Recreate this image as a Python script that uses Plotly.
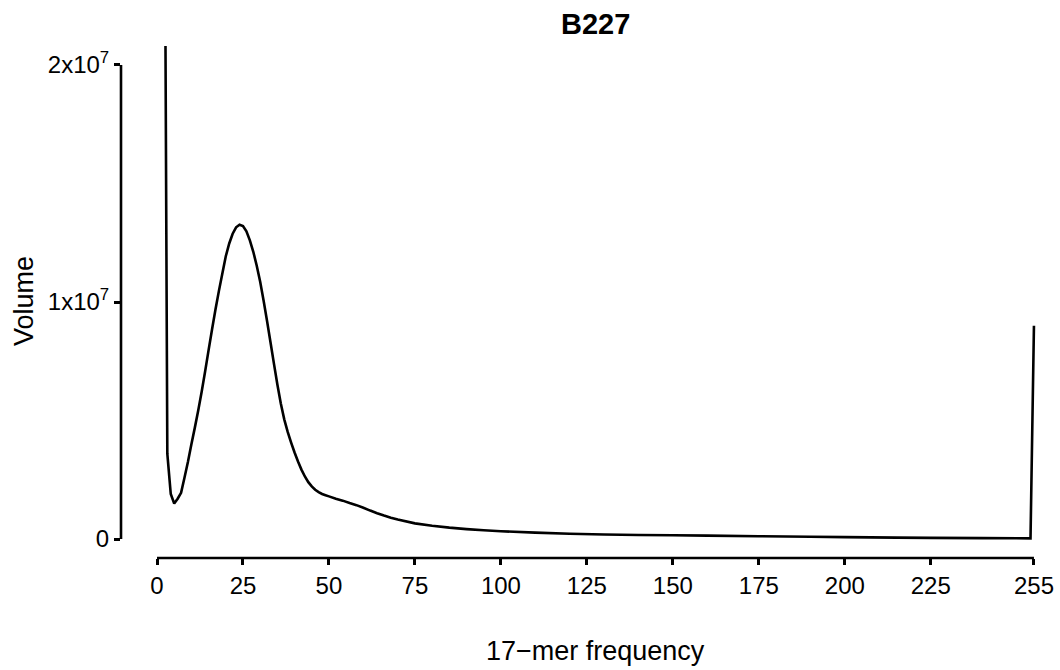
import plotly.graph_objects as go

# ---- data ----
freq = [2, 3, 4, 5, 6, 7, 8, 9, 10, 11, 12, 13, 14, 15, 16, 17, 18, 19, 20,
        21, 22, 23, 24, 25, 26, 27, 28, 29, 30, 31, 32, 33, 34, 35, 36, 37,
        38, 39, 40, 41, 42, 43, 44, 45, 46, 47, 48, 49, 50, 52, 54, 56, 58,
        60, 62, 64, 66, 68, 70, 75, 80, 85, 90, 95, 100, 110, 120, 130, 140,
        150, 160, 175, 190, 200, 215, 225, 240, 254, 255]
volume_m = [36.0, 3.6, 1.9, 1.5, 1.7, 1.95, 2.6, 3.26, 4.0, 4.7, 5.43, 6.22,
            7.08, 7.97, 8.84, 9.68, 10.47, 11.2, 11.93, 12.47, 12.88, 13.15,
            13.26, 13.2, 12.98, 12.6, 12.12, 11.53, 10.85, 10.05, 9.2, 8.3,
            7.4, 6.52, 5.72, 5.05, 4.52, 4.07, 3.65, 3.27, 2.93, 2.64, 2.4,
            2.22, 2.08, 1.98, 1.9, 1.85, 1.8, 1.7, 1.62, 1.52, 1.43, 1.32, 1.2,
            1.09, 0.99, 0.9, 0.82, 0.66, 0.56, 0.48, 0.42, 0.37, 0.33, 0.27,
            0.22, 0.19, 0.17, 0.16, 0.145, 0.12, 0.095, 0.08, 0.06, 0.05,
            0.04, 0.03, 9.0]
volume = [v * 1e6 for v in volume_m]

x_tickvals = [0, 25, 50, 75, 100, 125, 150, 175, 200, 225, 255]
x_ticktext = [str(v) for v in x_tickvals]
y_tickvals = [0, 1e7, 2e7]
y_ticktext = ["0", "1x10<sup>7</sup>", "2x10<sup>7</sup>"]

title_text = "B227"
x_title = "17\u2212mer frequency"
y_title = "Volume"

FONT = "Liberation Sans, Arial, Helvetica, sans-serif"
W, H = 1060, 670
L, R, T, B = 121, 19, 46, 112

fig = go.Figure()
fig.add_trace(go.Scatter(x=freq, y=volume, mode="lines",
                         line=dict(color="black", width=2.6, simplify=False),
                         hoverinfo="x+y", showlegend=False))

fig.update_layout(
    width=W, height=H,
    margin=dict(l=L, r=R, t=T, b=B, pad=0, autoexpand=False),
    paper_bgcolor="white", plot_bgcolor="white",
    font=dict(family=FONT, color="black", size=24),
    xaxis=dict(range=[-10.47, 257.05], tickvals=x_tickvals, ticktext=x_ticktext,
               ticks="outside", ticklen=6, tickwidth=2.5, tickcolor="black",
               showline=False, showgrid=False, zeroline=False, automargin=False,
               tickfont=dict(size=24, family=FONT, color="black")),
    yaxis=dict(range=[-0.8e6, 20.8e6], tickvals=y_tickvals, ticktext=y_ticktext,
               ticks="outside", ticklen=6, tickwidth=2.5, tickcolor="black",
               showline=False, showgrid=False, zeroline=False, automargin=False,
               tickfont=dict(size=24, family=FONT, color="black")),
    shapes=[
        dict(type="line", xref="x", yref="paper", x0=0, x1=255, y0=0, y1=0,
             line=dict(color="black", width=2.6)),
        dict(type="line", xref="paper", yref="y", x0=0, x1=0, y0=0, y1=2e7,
             line=dict(color="black", width=2.6)),
    ],
)

pw = W - L - R
ph = H - T - B
def px_x(px):
    return (px - L) / pw
def px_y(py):
    return (H - B - py) / ph

fig.add_annotation(text="<b>" + title_text + "</b>", x=px_x(595), y=px_y(24),
                   xref="paper", yref="paper", showarrow=False,
                   xanchor="center", yanchor="middle",
                   font=dict(size=29, family=FONT, color="black"))
fig.add_annotation(text=x_title, x=px_x(595), y=px_y(651),
                   xref="paper", yref="paper", showarrow=False,
                   xanchor="center", yanchor="middle",
                   font=dict(size=27, family=FONT, color="black"))
fig.add_annotation(text=y_title, x=px_x(24), y=px_y(301),
                   xref="paper", yref="paper", showarrow=False, textangle=-90,
                   xanchor="center", yanchor="middle",
                   font=dict(size=27, family=FONT, color="black"))

fig.write_html("out.html")
